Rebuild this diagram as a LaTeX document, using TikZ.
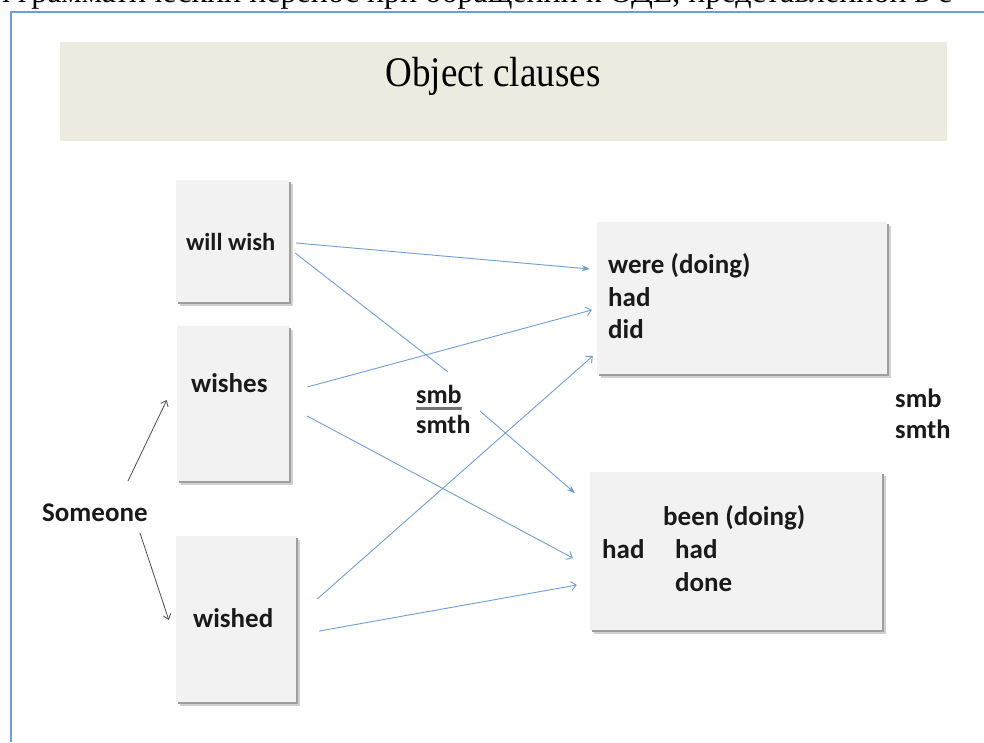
\documentclass[tikz,border=0pt]{standalone}
\usepackage{fontspec}
\setmainfont{Liberation Serif}
\newfontfamily\calfont{Carlito}
\usetikzlibrary{arrows.meta,calc}
\definecolor{frameblue}{HTML}{6A9FDC}
\definecolor{arrblue}{HTML}{6F9ED6}
\definecolor{bannerfill}{HTML}{EDEBE0}
\definecolor{boxfill}{HTML}{F2F2F2}
\definecolor{txt}{HTML}{1A1A1A}
\tikzset{
  box/.style={fill=boxfill, inner sep=0pt,
    preaction={fill=black!18, transform canvas={shift={(3.5pt,-3.5pt)}}},
    preaction={fill=black!38, transform canvas={shift={(2pt,-2pt)}}}},
  lbl/.style={inner sep=0pt, text=txt, font=\calfont\bfseries\fontsize{27}{32}\selectfont},
  bluefill/.style={draw=arrblue, line width=0.9pt, -{Stealth[length=8pt,width=6pt]}},
  blueopen/.style={draw=arrblue, line width=0.9pt, -{Straight Barb[length=5pt,width=9pt]}},
  blueline/.style={draw=arrblue, line width=0.9pt},
  darkarr/.style={draw=black!70, line width=0.8pt, -{Straight Barb[length=5pt,width=8pt]}}
}
\begin{document}
\begin{tikzpicture}[x=1pt,y=-1pt]
\useasboundingbox (0,0) rectangle (984,742);
\fill[white] (0,0) rectangle (984,742);
\begin{scope}
\clip (0,0) rectangle (984,742);
\node[anchor=base west, inner sep=0pt, font=\fontsize{32}{36}\selectfont] (cut) at (-6,2.5) {л грамматический перенос при обращении к ОДЕ, представленной в с};
\end{scope}
% frame
\draw[frameblue, line width=2pt] (10.5,742) -- (10.5,12) -- (984,12);
% banner
\node[fill=bannerfill, inner sep=0pt, minimum width=887, minimum height=99] (banner) at (503.5,91.5) {};
\node[anchor=base, inner sep=0pt, font=\fontsize{39}{44}\selectfont, xscale=0.95, yscale=1.08, transform shape] (title) at (493,86) {Object clauses};
% boxes
\node[box, minimum width=113, minimum height=122] (ww) at (232.5,241) {};
\node[box, minimum width=112, minimum height=155] (wi) at (233,403.5) {};
\node[box, minimum width=120, minimum height=166] (wd) at (236,619) {};
\node[box, minimum width=290, minimum height=152] (rt) at (742,298) {};
\node[box, minimum width=292, minimum height=158] (rb) at (736,551) {};
% texts
\node[lbl, anchor=base west, font=\calfont\bfseries\fontsize{24.5}{29}\selectfont] (tww) at (186,250) {will wish};
\node[lbl, anchor=base west] (twi) at (191,392) {wishes};
\node[lbl, anchor=base west] (twd) at (193,627) {wished};
\node[lbl, anchor=base west] (so) at (42,521) {Someone};
\node[lbl, anchor=base west] (r1) at (608,273) {were (doing)};
\node[lbl, anchor=base west] (r2) at (608,306) {had};
\node[lbl, anchor=base west] (r3) at (608,338) {did};
\node[lbl, anchor=base west] (b1) at (663,525) {been (doing)};
\node[lbl, anchor=base west] (b2) at (602,558) {had};
\node[lbl, anchor=base west] (b3) at (675,558) {had};
\node[lbl, anchor=base west] (b4) at (675,591) {done};
\node[lbl, anchor=base west, font=\calfont\bfseries\fontsize{26}{30}\selectfont] (smb) at (416,403) {smb};
\node[lbl, anchor=base west, font=\calfont\bfseries\fontsize{26}{30}\selectfont] (smth) at (416,433) {smth};
\draw[black!55, line width=2.2pt] ($(smb.base west)+(0,5.5)$) -- ($(smb.base east)+(0,5.5)$);
\node[lbl, anchor=base west, font=\calfont\bfseries\fontsize{26.5}{30}\selectfont] (smb2) at (895,407) {smb};
\node[lbl, anchor=base west, font=\calfont\bfseries\fontsize{26.5}{30}\selectfont] (smth2) at (895,438) {smth};
% gap coordinates
\coordinate (g1) at ($(smb.base west)+(32,-31)$);
\coordinate (g2) at ($(smb.base west)+(64,8)$);
% blue connectors
\draw[bluefill] ($(ww.east)+(7,2)$) -- ($(rt.west)+(-7,-29)$);
\draw[blueline] ($(ww.east)+(6,12)$) -- (g1);
\draw[bluefill] (g2) -- ($(rb.west)+(-15,-58)$);
\draw[blueopen] ($(wi.east)+(18,-16.5)$) -- ($(rt.west)+(-5,12)$);
\draw[blueopen] ($(wi.east)+(18,12.5)$) -- ($(rb.west)+(-17,7)$);
\draw[blueopen] ($(wd.east)+(21,-20)$) -- ($(rt.west)+(-4,58)$);
\draw[blueopen] ($(wd.east)+(23,12)$) -- ($(rb.west)+(-13,34)$);
% dark connectors
\draw[darkarr] ($(so.base west)+(86,-40)$) -- ($(wi.west)+(-10,-3.5)$);
\draw[darkarr] ($(so.base west)+(98,12)$) -- ($(wd.west)+(-7,1)$);
\end{tikzpicture}
\end{document}
